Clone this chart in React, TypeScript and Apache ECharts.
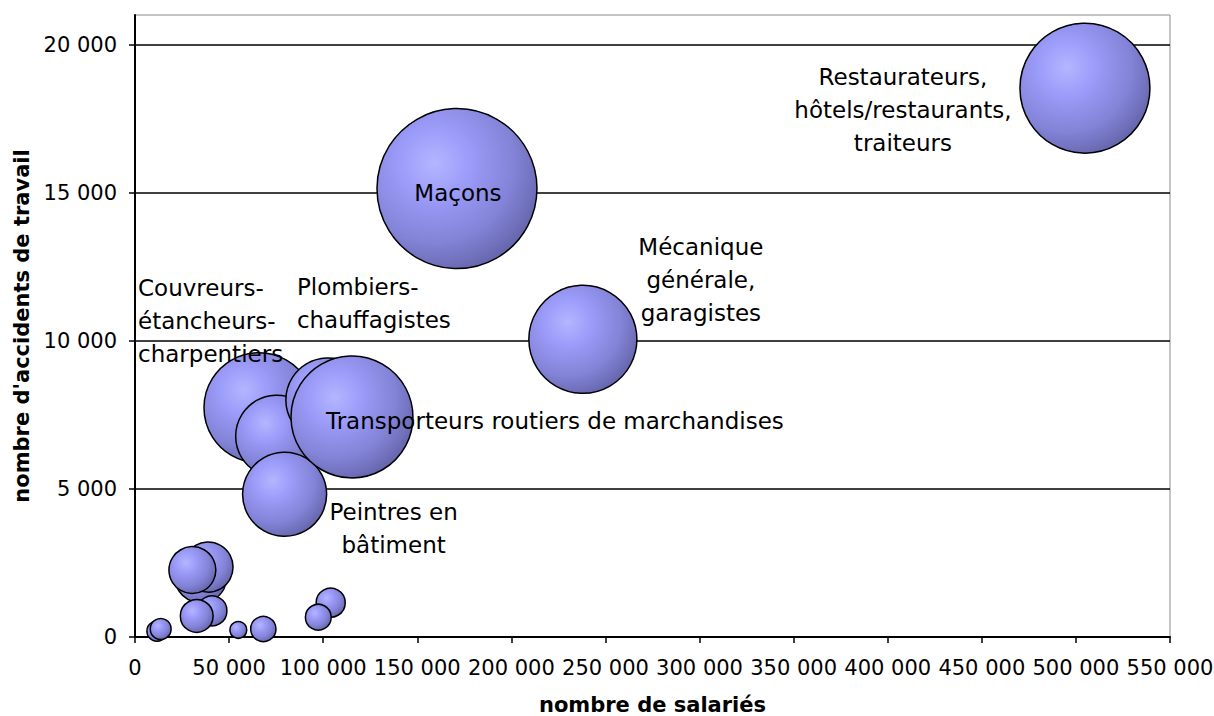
import React, { useEffect, useRef } from "react";
import * as echarts from "echarts";

// Data (drawing order: first = bottom)
const secteurs: string[] = [
  "", "", "", "", "", "", "", "", "", "", "",
  "Couvreurs-\nétancheurs-\ncharpentiers",
  "",
  "Peintres en\nbâtiment",
  "Plombiers-\nchauffagistes",
  "Transporteurs routiers de marchandises",
  "Mécanique\ngénérale,\ngaragistes",
  "Maçons",
  "Restaurateurs,\nhôtels/restaurants,\ntraiteurs",
];
const salaries: number[] = [
  35000, 38800, 30500, 40900, 32800, 11700, 13650, 54900, 68200, 104000, 97400,
  65900, 75300, 79500, 102500, 115300, 238000, 171100, 504800,
];
const accidents: number[] = [
  2030, 2360, 2260, 880, 710, 200, 270, 240, 270, 1160, 670,
  7740, 6780, 4820, 8000, 7430, 10050, 15140, 18530,
];
const taille: number[] = [
  10.6, 9.8, 8.6, 3.5, 4.2, 1.6, 1.7, 1.1, 2.5, 3.3, 2.6,
  47.3, 26.3, 27.6, 27.6, 58.1, 45.6, 100, 66,
];
const xTicks: number[] = [0, 50000, 100000, 150000, 200000, 250000, 300000, 350000, 400000, 450000, 500000, 550000];
const yTicks: number[] = [0, 5000, 10000, 15000, 20000];

// Label placement (style, not data)
const labelPlacement: Record<string, { align: string; offset: [number, number] }> = {
  "Couvreurs-\nétancheurs-\ncharpentiers": { align: "left", offset: [-121, -87] },
  "Peintres en\nbâtiment": { align: "center", offset: [109, 34] },
  "Plombiers-\nchauffagistes": { align: "left", offset: [-31, -97] },
  "Transporteurs routiers de marchandises": { align: "left", offset: [-26, 4] },
  "Mécanique\ngénérale,\ngaragistes": { align: "center", offset: [118, -59] },
  "Maçons": { align: "center", offset: [1, 4] },
  "Restaurateurs,\nhôtels/restaurants,\ntraiteurs": { align: "center", offset: [-182, 22] },
};

const fmt = (v: number) => String(v).replace(/\B(?=(\d{3})+(?!\d))/g, " ");
const FONT = "DejaVu Sans";

export default function App() {
  const ref = useRef<HTMLDivElement>(null);
  useEffect(() => {
    const chart = echarts.init(ref.current!, null, { renderer: "svg" });
    const data = secteurs.map((s, i) => {
      const p = labelPlacement[s];
      return {
        name: s,
        value: [salaries[i], accidents[i], taille[i]],
        label: p
          ? {
              show: true,
              formatter: s,
              position: "inside",
              align: p.align,
              verticalAlign: "middle",
              offset: p.offset,
              color: "#000",
              fontFamily: FONT,
              fontSize: 23,
              lineHeight: 33,
            }
          : { show: false },
      };
    });
    chart.setOption({
      animation: false,
      backgroundColor: "#fff",
      grid: {
        left: 135,
        right: 44,
        top: 15,
        bottom: 79,
        outerBoundsMode: "none",
        containLabel: false,
        show: true,
        borderColor: "#8a8a8a",
        borderWidth: 1,
        backgroundColor: "transparent",
      },
      xAxis: {
        type: "value",
        min: 0,
        max: 550000,
        interval: 50000,
        name: "nombre de salariés",
        nameLocation: "middle",
        nameGap: 57,
        nameTextStyle: { fontFamily: FONT, fontWeight: "bold", fontSize: 21, color: "#000" },
        axisLine: { show: true, onZero: false, lineStyle: { color: "#000", width: 2 } },
        axisTick: { show: true, length: 6, lineStyle: { color: "#000", width: 1.5 }, customValues: xTicks },
        axisLabel: {
          margin: 20,
          color: "#000",
          fontFamily: FONT,
          fontSize: 21,
          formatter: (v: number) => fmt(v),
          customValues: xTicks,
        },
        splitLine: { show: false },
      },
      yAxis: {
        type: "value",
        min: 0,
        max: 21000,
        interval: 5000,
        name: "nombre d'accidents de travail",
        nameLocation: "middle",
        nameRotate: 90,
        nameGap: 102,
        nameTextStyle: { fontFamily: FONT, fontWeight: "bold", fontSize: 21, color: "#000" },
        axisLine: { show: true, onZero: false, lineStyle: { color: "#000", width: 2 } },
        axisTick: { show: true, length: 6, lineStyle: { color: "#000", width: 1.5 }, customValues: yTicks },
        axisLabel: {
          margin: 18,
          color: "#000",
          fontFamily: FONT,
          fontSize: 21,
          formatter: (v: number) => fmt(v),
          customValues: yTicks,
        },
        splitLine: { show: true, lineStyle: { color: "#000", width: 1.5 } },
      },
      series: [
        {
          type: "scatter",
          data,
          silent: true,
          clip: false,
          symbol: "circle",
          symbolSize: (val: number[]) => 16 * Math.sqrt(val[2]),
          itemStyle: {
            color: {
              type: "radial",
              x: 0.36,
              y: 0.34,
              r: 0.72,
              colorStops: [
                { offset: 0, color: "#b3b6ff" },
                { offset: 0.3, color: "#9c9cfa" },
                { offset: 0.7, color: "#8282d6" },
                { offset: 1, color: "#6464aa" },
              ],
            },
            borderColor: "#000",
            borderWidth: 1.5,
            opacity: 1,
          },
          emphasis: { disabled: true },
        },
      ],
    });
    return () => chart.dispose();
  }, []);
  return (
    <div
      ref={ref}
      style={{ position: "fixed", left: 0, top: 0, width: 1214, height: 716, background: "#fff" }}
    />
  );
}
